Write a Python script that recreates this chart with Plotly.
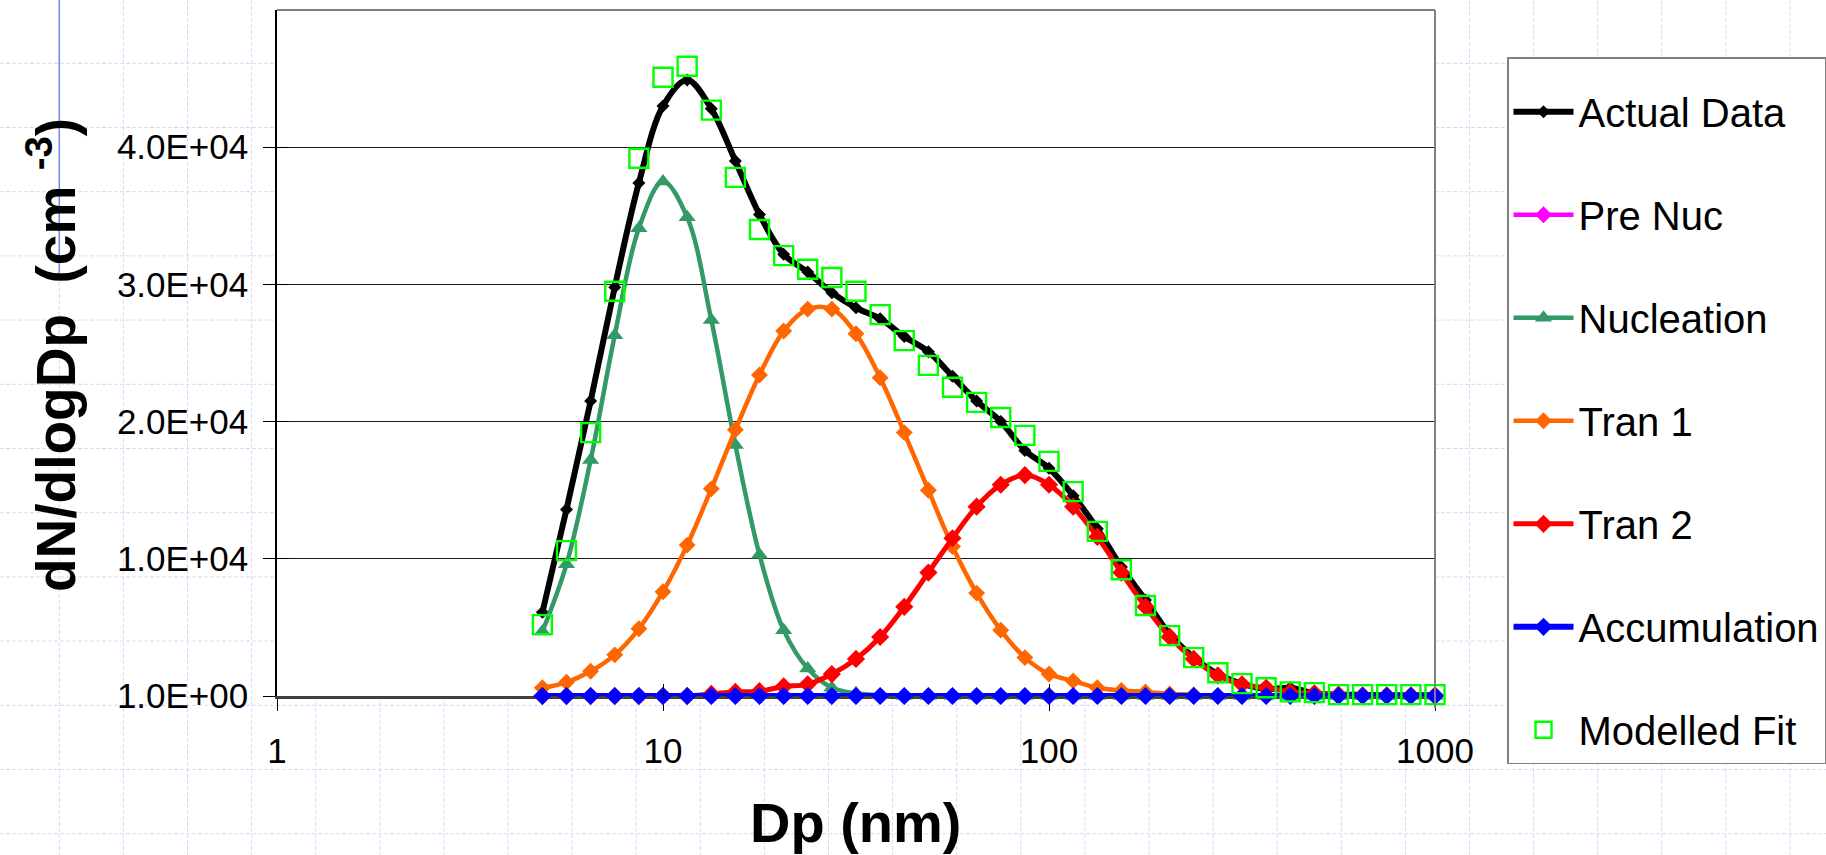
import plotly.graph_objects as go

# Particle size bins (nm), 16 channels per decade
dp_nm = [4.870, 5.623, 6.494, 7.499, 8.660, 10.00, 11.55, 13.34, 15.40, 17.78,
         20.54, 23.71, 27.38, 31.62, 36.52, 42.17, 48.70, 56.23, 64.94, 74.99,
         86.60, 100.0, 115.5, 133.4, 154.0, 177.8, 205.4, 237.1, 273.8, 316.2,
         365.2, 421.7, 487.0, 562.3, 649.4, 749.9, 866.0, 1000.0]

# dN/dlogDp (cm^-3) for each series
actual_data = [6100, 13600, 21500, 29800, 37400, 43000, 44900, 42800, 39000, 35100,
               32200, 30900, 29400, 28300, 27500, 26200, 25100, 23300, 21500, 20000,
               17900, 16600, 14600, 12200, 9400, 7000, 4500, 2800, 1600, 900,
               500, 600, 200, 100, 80, 60, 50, 50]
pre_nuc = [1, 1, 1, 1, 1, 1, 1, 1, 1, 1, 1, 1, 1, 1, 1, 1, 1, 1, 1, 1,
           1, 1, 1, 1, 1, 1, 1, 1, 1, 1, 1, 1, 1, 1, 1, 1, 1, 1]
nucleation = [4700, 9600, 17200, 26300, 34100, 37500, 34900, 27400, 18300, 10300,
              4800, 2000, 600, 200, 50, 1, 1, 1, 1, 1,
              1, 1, 1, 1, 1, 1, 1, 1, 1, 1, 1, 1, 1, 1, 1, 1, 1, 1]
tran_1 = [600, 1000, 1800, 3000, 4900, 7600, 11000, 15100, 19400, 23400,
          26600, 28200, 28200, 26400, 23200, 19200, 15000, 10900, 7500, 4800,
          2800, 1600, 1100, 600, 400, 300, 150, 100, 1, 1,
          1, 1, 1, 1, 1, 1, 1, 1]
tran_2 = [1, 1, 1, 1, 1, 1, 1, 150, 300, 350,
          700, 850, 1600, 2700, 4300, 6500, 9000, 11500, 13800, 15400,
          16100, 15400, 13800, 11600, 9000, 6500, 4300, 2700, 1500, 850,
          600, 300, 200, 100, 50, 50, 50, 50]
accumulation = [1, 1, 1, 1, 1, 1, 1, 1, 1, 1, 1, 1, 1, 1, 1, 1, 1, 1, 1, 1,
                1, 1, 1, 1, 1, 1, 1, 1, 1, 1, 1, 1, 1, 1, 1, 1, 1, 1]
modelled_fit = [5200, 10600, 19200, 29500, 39200, 45100, 45900, 42700, 37800, 34000,
                32100, 31100, 30500, 29500, 27800, 25900, 24100, 22500, 21400, 20300,
                19000, 17100, 14900, 12000, 9200, 6600, 4400, 2800, 1700, 900,
                600, 300, 250, 100, 100, 100, 100, 100]

y_tickvals = [1, 10001, 20001, 30001, 40001]
y_ticktext = ["1.0E+00", "1.0E+04", "2.0E+04", "3.0E+04", "4.0E+04"]
x_tickvals = [1, 10, 100, 1000]
x_ticktext = ["1", "10", "100", "1000"]

FONT = "Liberation Sans, Arial, sans-serif"
W, H = 1826, 855
L, R, T, B = 277, 1435, 10, 696   # plot area in pixels

fig = go.Figure()


def line_series(name, y, color, symbol, msize, lwidth):
    fig.add_trace(go.Scatter(
        x=dp_nm, y=y, name=name, mode="lines+markers",
        line=dict(color=color, width=lwidth, shape="spline", smoothing=1.0),
        marker=dict(symbol=symbol, size=msize, color=color),
        cliponaxis=False, legendgroup=name,
    ))


line_series("Actual Data", actual_data, "#000000", "diamond", 10, 6)
line_series("Pre Nuc", pre_nuc, "#FF00FF", "diamond", 13, 4.5)
line_series("Nucleation", nucleation, "#339966", "triangle-up", 15, 4.5)
line_series("Tran 1", tran_1, "#FF6600", "diamond", 13, 4.5)
line_series("Tran 2", tran_2, "#FF0000", "diamond", 14, 5)
line_series("Accumulation", accumulation, "#0000FF", "diamond", 14, 6)
fig.add_trace(go.Scatter(
    x=dp_nm, y=modelled_fit, name="Modelled Fit", mode="markers",
    marker=dict(symbol="square-open", size=19, color="#00FF00",
                line=dict(width=2.4, color="#00FF00")),
    cliponaxis=False, legendgroup="Modelled Fit",
))

# invisible point carrying the overlay axes used for the inner half of the cross ticks
fig.add_trace(go.Scatter(x=[1], y=[1], xaxis="x2", yaxis="y2", showlegend=False,
                         mode="markers", marker=dict(size=1, opacity=0),
                         hoverinfo="skip"))


def px_x(p):
    return (p - L) / (R - L)


def px_y(p):
    return (B - p) / (B - T)


# light graph-paper background outside the plot area
shapes = []
grid_style = dict(color="#d3ddf9", width=1, dash="4px,2px")
gx = 59.3
while gx < W:
    if L < gx < R:
        shapes.append(dict(type="line", xref="paper", yref="paper",
                           x0=px_x(gx), x1=px_x(gx), y0=px_y(B), y1=px_y(H),
                           line=grid_style, layer="below"))
    else:
        shapes.append(dict(type="line", xref="paper", yref="paper",
                           x0=px_x(gx), x1=px_x(gx), y0=px_y(0), y1=px_y(H),
                           line=grid_style, layer="below"))
    gx += 64.1
gy = 63.3
while gy < H:
    if T < gy < B:
        for a, b in ((0, L), (R, W)):
            shapes.append(dict(type="line", xref="paper", yref="paper",
                               x0=px_x(a), x1=px_x(b), y0=px_y(gy), y1=px_y(gy),
                               line=grid_style, layer="below"))
    else:
        shapes.append(dict(type="line", xref="paper", yref="paper",
                           x0=px_x(0), x1=px_x(W), y0=px_y(gy), y1=px_y(gy),
                           line=grid_style, layer="below"))
    gy += 64.2

# stray blue guide line at the top left
shapes.append(dict(type="line", xref="paper", yref="paper",
                   x0=px_x(59.3), x1=px_x(59.3), y0=px_y(0), y1=px_y(273),
                   line=dict(color="#6a8af2", width=1.5), layer="below"))

# top and right edges of the plot frame
frame = dict(color="#808080", width=2)
shapes.append(dict(type="line", xref="paper", yref="paper", x0=0, x1=1, y0=1, y1=1,
                   line=frame, layer="above"))
shapes.append(dict(type="line", xref="paper", yref="paper", x0=1, x1=1,
                   y0=px_y(708), y1=1, line=frame, layer="above"))

axis_common = dict(showgrid=False, zeroline=False, layer="below traces")

fig.update_layout(
    width=W, height=H,
    margin=dict(l=L, r=W - R, t=T, b=H - B, autoexpand=False),
    paper_bgcolor="white", plot_bgcolor="white",
    font=dict(family=FONT, color="black"),
    xaxis=dict(type="log", range=[0, 3], tickvals=x_tickvals, ticktext=x_ticktext,
               ticks="outside", ticklen=12, tickwidth=1.3, tickcolor="black",
               showline=True, linecolor="#404040", linewidth=2.5,
               tickfont=dict(size=35, family=FONT), ticklabelstandoff=10,
               **axis_common),
    yaxis=dict(range=[1, 50001], tickvals=y_tickvals, ticktext=y_ticktext,
               ticks="outside", ticklen=12, tickwidth=1.3, tickcolor="black",
               showline=True, linecolor="black", linewidth=1.5,
               showgrid=True, gridcolor="#1a1a1a", gridwidth=1.3,
               zeroline=False, layer="below traces",
               tickfont=dict(size=35, family=FONT), ticklabelstandoff=8),
    xaxis2=dict(type="log", range=[0, 3], overlaying="x", tickvals=x_tickvals,
                ticks="inside", ticklen=12, tickwidth=1.3, tickcolor="black",
                showticklabels=False, showline=False, showgrid=False,
                zeroline=False),
    yaxis2=dict(range=[1, 50001], overlaying="y", tickvals=y_tickvals,
                ticks="inside", ticklen=12, tickwidth=1.3, tickcolor="black",
                showticklabels=False, showline=False, showgrid=False,
                zeroline=False),
    legend=dict(
        xref="container", yref="container",
        x=1507 / W, y=1 - 57 / H, xanchor="left", yanchor="top",
        bgcolor="white", bordercolor="#808080", borderwidth=1.5,
        font=dict(size=40, family=FONT, color="black"),
        tracegroupgap=48, itemwidth=60, maxheight=800,
        title=dict(text=" ", font=dict(size=16)),
    ),
    shapes=shapes,
    annotations=[
        dict(text="<b>Dp (nm)</b>", xref="paper", yref="paper",
             x=0.5, y=px_y(822), xanchor="center", yanchor="middle",
             showarrow=False, font=dict(size=56, family=FONT)),
        dict(text="<b>dN/dlogDp  (cm <sup>-3</sup>)</b>", xref="paper", yref="paper",
             x=px_x(52), y=px_y(355), xanchor="center", yanchor="middle",
             textangle=-90, showarrow=False, font=dict(size=55, family=FONT)),
    ],
    showlegend=True,
)

fig.write_html("out.html")
